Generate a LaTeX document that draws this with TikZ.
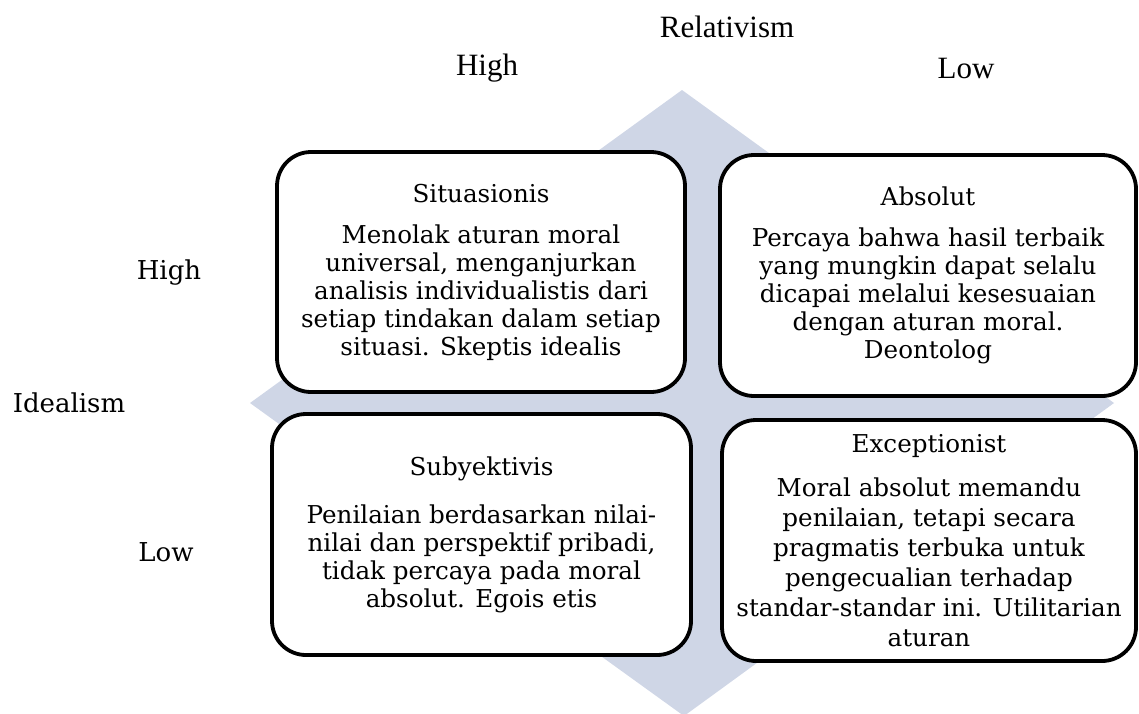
\documentclass[tikz,border=0pt]{standalone}
\usepackage{fontspec}
\setmainfont{DejaVu Serif}
\newfontfamily\timesfont{Liberation Serif}
\usetikzlibrary{positioning}

\definecolor{diamondblue}{RGB}{207,214,230}

\begin{document}
\begin{tikzpicture}[x=1pt,y=-1pt,
    quadrant/.style={draw=black,line width=3.8pt,fill=white,rounded corners=34pt,
      align=center,inner sep=0pt,font=\fontsize{24.6}{28}\selectfont},
    axislabel/.style={font=\timesfont\fontsize{31}{36}\selectfont,inner sep=0pt},
    sidelabel/.style={font=\fontsize{26}{30}\selectfont,inner sep=0pt}]
    \useasboundingbox (0,0) rectangle (1139,713);
    % background diamond
    \fill[diamondblue] (682,90) -- (1114,403) -- (684,716) -- (250,403) -- cycle;

    \node[quadrant,minimum width=408pt,minimum height=240pt] (situasionis) at (481,272)
      {Situasionis\\[13pt]
       Menolak aturan moral\\ universal, menganjurkan\\ analisis individualistis dari\\
       setiap tindakan dalam setiap\\ situasi. Skeptis idealis};
    \node[quadrant,minimum width=416pt,minimum height=241pt] (absolut) at (928,275.5)
      {Absolut\\[13pt]
       Percaya bahwa hasil terbaik\\ yang mungkin dapat selalu\\ dicapai melalui kesesuaian\\
       dengan aturan moral.\\ Deontolog};
    \node[quadrant,minimum width=419pt,minimum height=241pt] (subyektivis) at (481.5,534.5)
      {Subyektivis\\[20pt]
       Penilaian berdasarkan nilai-\\ nilai dan perspektif pribadi,\\ tidak percaya pada moral\\
       absolut. Egois etis};
    \node[quadrant,minimum width=414pt,minimum height=241pt,
      font=\fontsize{24.6}{30}\selectfont] (exceptionist) at (929,540.5)
      {Exceptionist\\[14pt]
       Moral absolut memandu\\ penilaian, tetapi secara\\ pragmatis terbuka untuk\\
       pengecualian terhadap\\ standar-standar ini. Utilitarian\\ aturan};

    % axis labels
    \node[axislabel] (relativism) at (727,27) {Relativism};
    \node[axislabel] (relhigh) at (487,68) {High};
    \node[axislabel] (rellow) at (966,68) {Low};
    \node[sidelabel] (idealism) at (69,403) {Idealism};
    \node[sidelabel] (idhigh) at (169,273) {High};
    \node[sidelabel] (idlow) at (166,552) {Low};
\end{tikzpicture}
\end{document}
